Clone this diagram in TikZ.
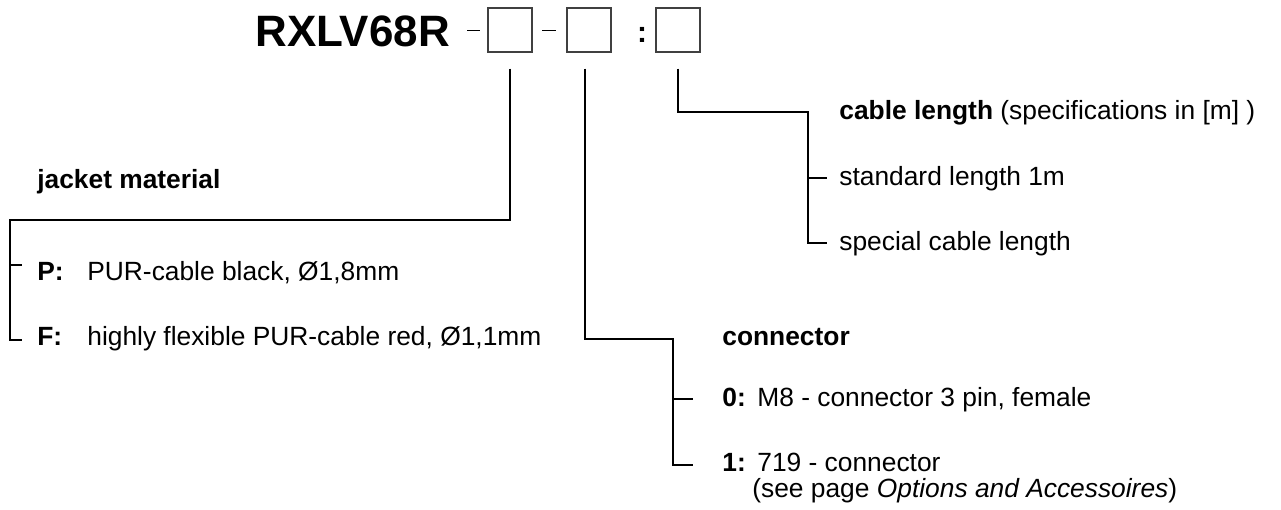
\documentclass[tikz,border=0pt]{standalone}
\usepackage{fontspec}
\setmainfont{Liberation Sans}
\usepackage{tikz}
\usetikzlibrary{calc,positioning}

\tikzset{
  codebox/.style={draw=black!75, line width=0.8pt, minimum size=0.88cm, inner sep=0pt},
  lbl/.style={anchor=base west, inner sep=0pt, font=\fontsize{15}{18}\selectfont},
  key/.style={anchor=base west, inner sep=0pt, font=\fontsize{15}{18}\selectfont\bfseries},
  lead/.style={line width=1.1pt},
}

\begin{document}
\begin{tikzpicture}[x=0.02cm,y=-0.02cm]

\useasboundingbox (0,0) rectangle (1281,510);

% order code
\node[anchor=base west, inner sep=0pt, font=\fontsize{25}{30}\selectfont\bfseries] (code) at (255,47) {RXLV68R};

\node[codebox] (b1) at (510,30) {};
\node[codebox] (b2) at (589,30) {};
\node[codebox] (b3) at (678,30) {};

\coordinate (d1a) at (467,30);
\coordinate (d1b) at (480,30);
\coordinate (d2a) at (542,30);
\coordinate (d2b) at (556,30);
\draw[line width=0.5pt] (d1a) -- (d1b);
\draw[line width=0.5pt] (d2a) -- (d2b);

\node[inner sep=0pt, font=\fontsize{17}{20}\selectfont\bfseries] (colon) at (642,35) {:};

% jacket material
\node[key] (jm) at (37,188) {jacket material};
\node[key] (pP) at (37,280) {P:};
\node[lbl] (tP) at (87,280) {PUR-cable black, Ø1,8mm};
\node[key] (pF) at (37,345) {F:};
\node[lbl] (tF) at (87,345) {highly flexible PUR-cable red, Ø1,1mm};

\coordinate (jk) at (10,220);
\coordinate (jP) at (10,265);
\coordinate (eP) at (22,265);
\coordinate (eF) at (22,340);

\draw[lead] ($(b1.south)+(0,16)$) |- (jk) |- (eF);
\draw[lead] (jP) -- (eP);

% connector
\node[key] (cn) at (722,345) {connector};
\node[key] (p0) at (722,406) {0:};
\node[lbl] (t0) at (757,406) {M8 - connector 3 pin, female};
\node[key] (p1) at (722,471) {1:};
\node[lbl] (t1) at (757,471) {719 - connector};
\node[lbl] (t1b) at (752,497) {(see page \textit{Options and Accessoires})};

\coordinate (ck) at (673,339);
\coordinate (c0) at (673,399);
\coordinate (e0) at (693,399);
\coordinate (e1) at (693,465);

\draw[lead] ($(b2.south)+(-4,16)$) |- (ck) |- (e1);
\draw[lead] (c0) -- (e0);

% cable length
\node[lbl] (cl) at (839,119) {\textbf{cable length} (specifications in [m] )};
\node[lbl] (ts) at (839,185) {standard length 1m};
\node[lbl] (tx) at (839,250) {special cable length};

\coordinate (lk) at (808,112);
\coordinate (ls) at (808,178);
\coordinate (es) at (827,178);
\coordinate (ex) at (827,243);

\draw[lead] ($(b3.south)+(0,16)$) |- (lk) |- (ex);
\draw[lead] (ls) -- (es);

\end{tikzpicture}
\end{document}
